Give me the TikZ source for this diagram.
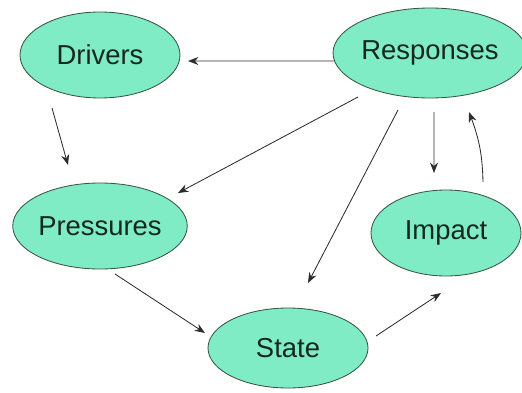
\documentclass[tikz,border=0pt]{standalone}
\usepackage{fontspec}
\setmainfont{Liberation Sans}
\usepackage{xcolor}
\usetikzlibrary{shapes.geometric,arrows.meta,bending}
\tikzset{>={Stealth[length=2.6mm,width=2mm]}}
\definecolor{seafoam}{RGB}{128,236,198}
\definecolor{rim}{RGB}{55,85,65}
\definecolor{ink}{RGB}{20,40,30}
\definecolor{wire}{RGB}{45,45,45}
\tikzset{
  blob/.style={ellipse,fill=seafoam,draw=rim,line width=0.6pt,inner sep=0pt,
    text=ink,font=\fontsize{19.5}{22}\selectfont},
  link/.style={->,wire,line width=0.6pt}
}

\begin{document}
\begin{tikzpicture}
    \useasboundingbox (0,0) rectangle (13.05,9.8);
    % the five boxes of the cycle
    \node[blob,minimum width=4cm,minimum height=2.15cm] (drv) at (2.5,8.425) {Drivers};
    \node[blob,minimum width=3.95cm,minimum height=2.25cm] (resp) at (10.75,8.475) {Responses};
    \node[blob,minimum width=4.35cm,minimum height=2.15cm] (pres) at (2.5,4.15) {Pressures};
    \node[blob,minimum width=4cm,minimum height=2cm] (state) at (7.2,1.1) {State};
    \node[blob,minimum width=3.75cm,minimum height=2.15cm] (imp) at (11.15,3.975) {Impact};
    % links
    \draw[link] ([xshift=-2.4cm,yshift=-0.2cm]resp.center) -- ([xshift=2.2cm,yshift=-0.15cm]drv.center);
    \draw[link] ([xshift=-1.2cm,yshift=-1.325cm]drv.center) -- ([xshift=-0.8cm,yshift=1.525cm]pres.center);
    \draw[link] ([xshift=-1.8cm,yshift=-1.1cm]resp.center) -- ([xshift=1.95cm,yshift=0.825cm]pres.center);
    \draw[link] ([xshift=-0.8cm,yshift=-1.425cm]resp.center) -- ([xshift=0.5cm,yshift=1.625cm]state.center);
    \draw[link] ([xshift=0.1cm,yshift=-1.475cm]resp.center) -- ([xshift=-0.3cm,yshift=1.5cm]imp.center);
    \draw[link] ([xshift=0.925cm,yshift=1.275cm]imp.center) to[bend right=10] ([xshift=0.975cm,yshift=-1.475cm]resp.center);
    \draw[link] ([xshift=0.375cm,yshift=-1.2cm]pres.center) -- ([xshift=-2.075cm,yshift=0.375cm]state.center);
    \draw[link] ([xshift=2.2cm,yshift=0.3cm]state.center) -- ([xshift=-0.125cm,yshift=-1.5cm]imp.center);
\end{tikzpicture}
\end{document}
